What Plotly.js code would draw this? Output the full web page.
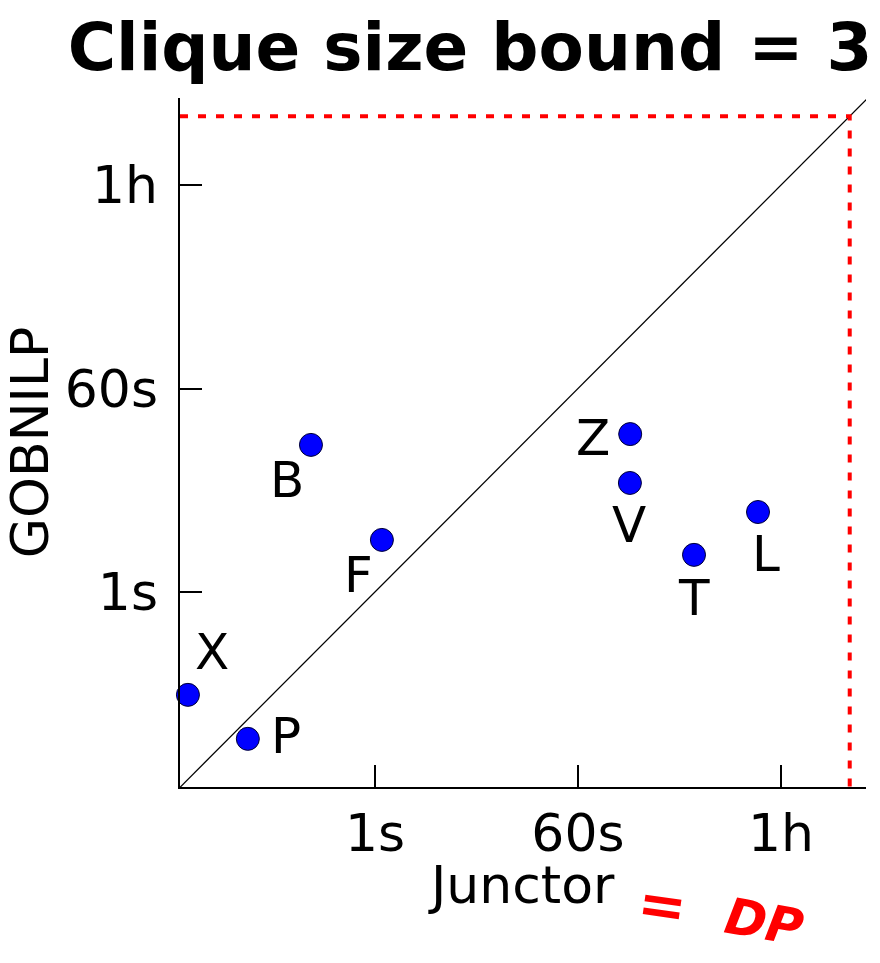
<!DOCTYPE html>
<html>
<head>
<meta charset="utf-8">
<script src="https://cdn.plot.ly/plotly-3.0.1.min.js"></script>
<style>
  html, body { margin: 0; padding: 0; background: #fff; }
  #chart { width: 880px; height: 963px; }
</style>
</head>
<body>
<div id="chart"></div>
<script>
// Solve times (seconds) per instance: Junctor vs GOBNILP
const instances = ["X", "P", "B", "F", "Z", "V", "T", "L"];
const junctorTime = [0.023, 0.077, 0.275, 1.15, 172, 171, 623, 2265];
const gobnilpTime = [0.126, 0.052, 19.3, 2.85, 24.0, 8.97, 2.11, 5.0];

// Tick values and their labels (both axes)
const tickValues = [1, 60, 3600];
const tickLabels = ["1s", "60s", "1h"];

// Time limit (4 hours) and visible axis span in seconds
const timeLimit = 14400;
const axisMin = 0.0196;
const axisMax = 20000;

// Label offsets in pixels (dx right, dy up) relative to each point
const labelDx = [24, 38, -24, -23, -37, -1, 0, 8];
const labelDy = [43, 3, -35, -35, -4, -42, -43, -42];

const FONT = "DejaVu Sans, sans-serif";

const traces = [
  {
    // y = x reference line
    x: [axisMin, axisMax * 1.5],
    y: [axisMin, axisMax * 1.5],
    mode: "lines",
    line: { color: "#000", width: 1.3 },
    hoverinfo: "skip"
  },
  {
    // time limit box edges
    x: [axisMin, timeLimit, timeLimit],
    y: [timeLimit, timeLimit, axisMin],
    mode: "lines",
    line: { color: "#ff0000", width: 4, dash: "8px,10px" },
    hoverinfo: "skip"
  },
  {
    x: junctorTime,
    y: gobnilpTime,
    mode: "markers",
    marker: { color: "#0000ff", size: 23, line: { color: "#000033", width: 1 } },
    cliponaxis: false,
    text: instances
  }
];

const annotations = instances.map((name, i) => ({
  x: Math.log10(junctorTime[i]),
  y: Math.log10(gobnilpTime[i]),
  xref: "x", yref: "y",
  text: name,
  showarrow: false,
  xshift: labelDx[i],
  yshift: labelDy[i],
  font: { family: FONT, size: 50, color: "#000" }
}));

// x axis title, placed just under the tick labels
annotations.push({
  xref: "paper", yref: "paper",
  x: (521 - 180) / 686, y: -(885 - 787) / 689,
  xanchor: "center", yanchor: "middle",
  text: "Junctor",
  showarrow: false,
  font: { family: FONT, size: 52, color: "#000" }
});

// red hand-written note next to the x axis title
annotations.push({
  xref: "paper", yref: "paper",
  x: (662 - 180) / 686, y: -(905 - 787) / 689,
  xanchor: "center", yanchor: "middle",
  text: "<b>=</b>",
  textangle: 8,
  showarrow: false,
  font: { family: "DejaVu Sans, sans-serif", size: 58, color: "#ff0000" }
});
annotations.push({
  xref: "paper", yref: "paper",
  x: (764 - 180) / 686, y: -(922 - 787) / 689,
  xanchor: "center", yanchor: "middle",
  text: "<b><i>DP</i></b>",
  textangle: 10,
  showarrow: false,
  font: { family: "DejaVu Sans, sans-serif", size: 50, color: "#ff0000" }
});

const axisCommon = {
  type: "log",
  showgrid: false,
  zeroline: false,
  showline: true,
  linecolor: "#000",
  linewidth: 1.6,
  ticks: "inside",
  ticklen: 22,
  tickwidth: 2,
  tickcolor: "#000",
  tickvals: tickValues,
  ticktext: tickLabels,
  tickfont: { family: FONT, size: 52, color: "#000" },
  mirror: false
};

const layout = {
  width: 880,
  height: 963,
  margin: { l: 180, r: 14, t: 98, b: 176 },
  paper_bgcolor: "#fff",
  plot_bgcolor: "#fff",
  showlegend: false,
  title: {
    text: "<b>Clique size bound = 3</b>",
    x: 470 / 880, xanchor: "center",
    y: 1 - 47 / 963, yanchor: "middle",
    font: { family: "DejaVu Sans, sans-serif", size: 66, color: "#000" }
  },
  xaxis: Object.assign({}, axisCommon, {
    range: [Math.log10(axisMin), 4.301],
    ticklabelstandoff: 0
  }),
  yaxis: Object.assign({}, axisCommon, {
    range: [-1.705, 4.318],
    ticklabelstandoff: 10,
    title: { text: "GOBNILP", font: { family: FONT, size: 52, color: "#000" }, standoff: 2 }
  }),
  annotations: annotations
};

Plotly.newPlot("chart", traces, layout, { displayModeBar: false, staticPlot: true });
</script>
</body>
</html>
